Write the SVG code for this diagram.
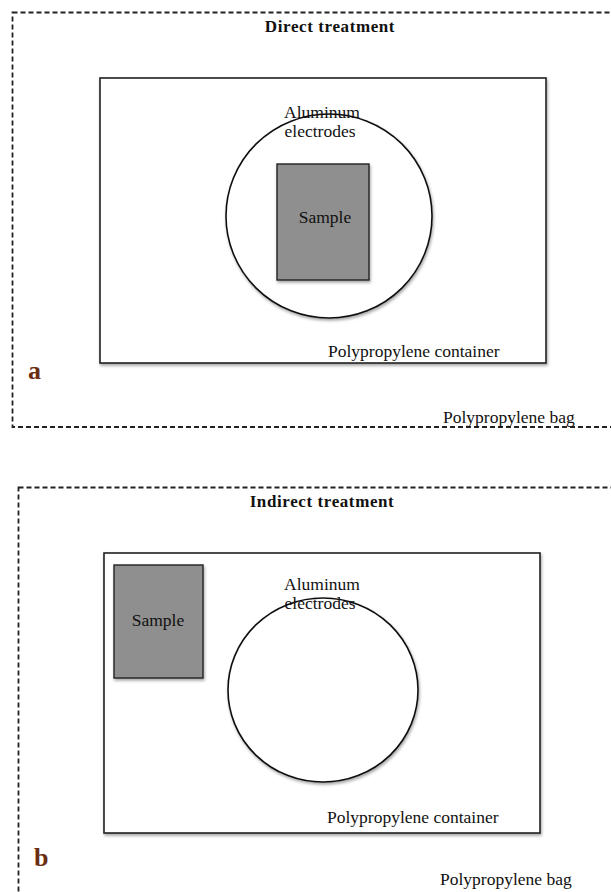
<svg xmlns="http://www.w3.org/2000/svg" width="611" height="892" viewBox="0 0 611 892">
<style>
.bag{fill:none;stroke:#222;stroke-width:1.8;stroke-dasharray:5 3}
.box{fill:#fff;stroke:#222;stroke-width:1.6}
.circ{fill:#fff;stroke:#111;stroke-width:1.6}
.smp{fill:#8f8f8f;stroke:#222;stroke-width:1.4}
.t{font-family:"Liberation Serif","DejaVu Serif","Times New Roman",serif;font-size:17.5px;fill:#111}
.title{font-family:"Liberation Serif","DejaVu Serif","Times New Roman",serif;font-size:17px;font-weight:bold;fill:#111;text-anchor:middle;letter-spacing:0.6px}
.lab{font-family:"Liberation Serif","DejaVu Serif","Times New Roman",serif;font-size:26px;font-weight:bold;fill:#6b2e12}
</style>
<defs>
<filter id="sh" x="-10%" y="-10%" width="120%" height="120%">
<feDropShadow dx="1" dy="2" stdDeviation="1.5" flood-color="#000" flood-opacity="0.35"/>
</filter>
</defs>
<g id="panel-a">
<rect id="bag-a" class="bag" x="12.5" y="12.5" width="610" height="414.5"/>
<text class="title" x="330" y="32">Direct treatment</text>
<g id="container-a">
<rect class="box" x="100" y="78" width="446" height="285" filter="url(#sh)"/>
<text class="t" x="328" y="357">Polypropylene container</text>
</g>
<g id="electrodes-a">
<ellipse class="circ" cx="329" cy="216" rx="103" ry="102" filter="url(#sh)"/>
<text class="t" x="322" y="118" text-anchor="middle">Aluminum</text>
<text class="t" x="320" y="137" text-anchor="middle">electrodes</text>
</g>
<g id="sample-a">
<rect class="smp" x="277" y="164" width="92" height="116" filter="url(#sh)"/>
<text class="t" x="325" y="223" text-anchor="middle">Sample</text>
</g>
<text class="lab" x="28" y="379">a</text>
<text class="t" x="443" y="423">Polypropylene bag</text>
</g>
<g id="panel-b">
<rect id="bag-b" class="bag" x="18.5" y="487.5" width="610" height="420"/>
<text class="title" x="322" y="507">Indirect treatment</text>
<g id="container-b">
<rect class="box" x="104" y="553" width="436" height="280" filter="url(#sh)"/>
<text class="t" x="327" y="823">Polypropylene container</text>
</g>
<g id="electrodes-b">
<ellipse class="circ" cx="323" cy="690" rx="95" ry="92" filter="url(#sh)"/>
<text class="t" x="322" y="590" text-anchor="middle">Aluminum</text>
<text class="t" x="320" y="609" text-anchor="middle">electrodes</text>
</g>
<g id="sample-b">
<rect class="smp" x="114" y="565" width="89" height="113" filter="url(#sh)"/>
<text class="t" x="158" y="626" text-anchor="middle">Sample</text>
</g>
<text class="lab" x="34" y="866">b</text>
<text class="t" x="440" y="885">Polypropylene bag</text>
</g>
</svg>
